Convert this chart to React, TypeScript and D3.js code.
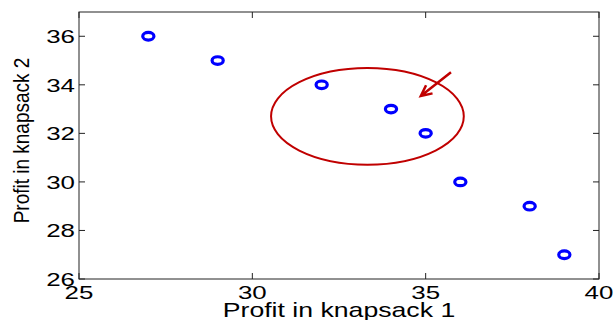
import React from "react";
import * as d3 from "d3";

// profit pairs
const profit1 = [27, 29, 32, 34, 35, 36, 38, 39];
const profit2 = [36, 35, 34, 33, 32, 30, 29, 27];

const xTicks = [25, 30, 35, 40];
const yTicks = [26, 28, 30, 32, 34, 36];

// highlighted region (data units)
const ellipseCenter = [33.32, 32.7];
const ellipseRadii = [2.78, 1.99];
const arrowFrom = [35.73, 34.52];
const arrowTo = [34.86, 33.54];

const W = 613;
const H = 320;
const margin = { top: 12, right: 14, bottom: 41, left: 79 };

const App = () => {
  const x = d3
    .scaleLinear()
    .domain([25, 40])
    .range([margin.left, W - margin.right]);
  const y = d3
    .scaleLinear()
    .domain([26, 37])
    .range([H - margin.bottom, margin.top]);

  const [x0, x1] = x.range();
  const [y0, y1] = y.range(); // y0 bottom, y1 top
  const tick = 6;
  const font = "'Liberation Sans', Arial, sans-serif";

  // arrow head
  const ax1 = x(arrowFrom[0]);
  const ay1 = y(arrowFrom[1]);
  const ax2 = x(arrowTo[0]);
  const ay2 = y(arrowTo[1]);
  const ang = Math.atan2(ay2 - ay1, ax2 - ax1);
  const hl = 12;
  const head = [ang + Math.PI - 0.45, ang + Math.PI + 0.45].map((a) => [
    ax2 + hl * Math.cos(a),
    ay2 + hl * Math.sin(a),
  ]);
  const arrowPath = d3.path();
  arrowPath.moveTo(ax1, ay1);
  arrowPath.lineTo(ax2, ay2);
  arrowPath.moveTo(head[0][0], head[0][1]);
  arrowPath.lineTo(ax2, ay2);
  arrowPath.lineTo(head[1][0], head[1][1]);

  return (
    <svg
      width={W}
      height={H}
      style={{ position: "absolute", left: 0, top: 0, background: "#fff" }}
      fontFamily={font}
    >
      {/* box */}
      <rect
        x={x0}
        y={y1}
        width={x1 - x0}
        height={y0 - y1}
        fill="none"
        stroke="#222"
        strokeWidth={1}
      />

      {/* x ticks (bottom + top, inward) */}
      {xTicks.map((t) => (
        <g key={"x" + t}>
          <line x1={x(t)} x2={x(t)} y1={y0} y2={y0 - tick} stroke="#222" />
          <line x1={x(t)} x2={x(t)} y1={y1} y2={y1 + tick} stroke="#222" />
          <text
            transform={`translate(${x(t)},${y0 + 20}) scale(1.4,1)`}
            textAnchor="middle"
            fontSize={18.5}
            fill="#000"
          >
            {t}
          </text>
        </g>
      ))}

      {/* y ticks (left + right, inward) */}
      {yTicks.map((t) => (
        <g key={"y" + t}>
          <line x1={x0} x2={x0 + tick} y1={y(t)} y2={y(t)} stroke="#222" />
          <line x1={x1} x2={x1 - tick} y1={y(t)} y2={y(t)} stroke="#222" />
          <text
            transform={`translate(${x0 - 4},${y(t) + 6.7}) scale(1.4,1)`}
            textAnchor="end"
            fontSize={18.5}
            fill="#000"
          >
            {t}
          </text>
        </g>
      ))}

      {/* axis titles */}
      <text
        transform={`translate(${(x0 + x1) / 2},${H - 3}) scale(1.3,1)`}
        textAnchor="middle"
        fontSize={20.5}
        fill="#000"
      >
        Profit in knapsack 1
      </text>
      <text
        transform={`translate(29,140.5) scale(1.17,1) rotate(-90)`}
        textAnchor="middle"
        fontSize={19}
        fill="#000"
      >
        Profit in knapsack 2
      </text>

      {/* highlight ellipse and arrow */}
      <ellipse
        cx={x(ellipseCenter[0])}
        cy={y(ellipseCenter[1])}
        rx={x(ellipseCenter[0] + ellipseRadii[0]) - x(ellipseCenter[0])}
        ry={y(ellipseCenter[1]) - y(ellipseCenter[1] + ellipseRadii[1])}
        fill="none"
        stroke="#c00000"
        strokeWidth={2}
      />
      <path
        d={arrowPath.toString()}
        fill="none"
        stroke="#c00000"
        strokeWidth={2.5}
      />

      {/* points */}
      {profit1.map((p, i) => (
        <ellipse
          key={i}
          cx={x(p)}
          cy={y(profit2[i])}
          rx={5.6}
          ry={3.8}
          fill="none"
          stroke="#0000ff"
          strokeWidth={3.2}
        />
      ))}
    </svg>
  );
};

export default App;
